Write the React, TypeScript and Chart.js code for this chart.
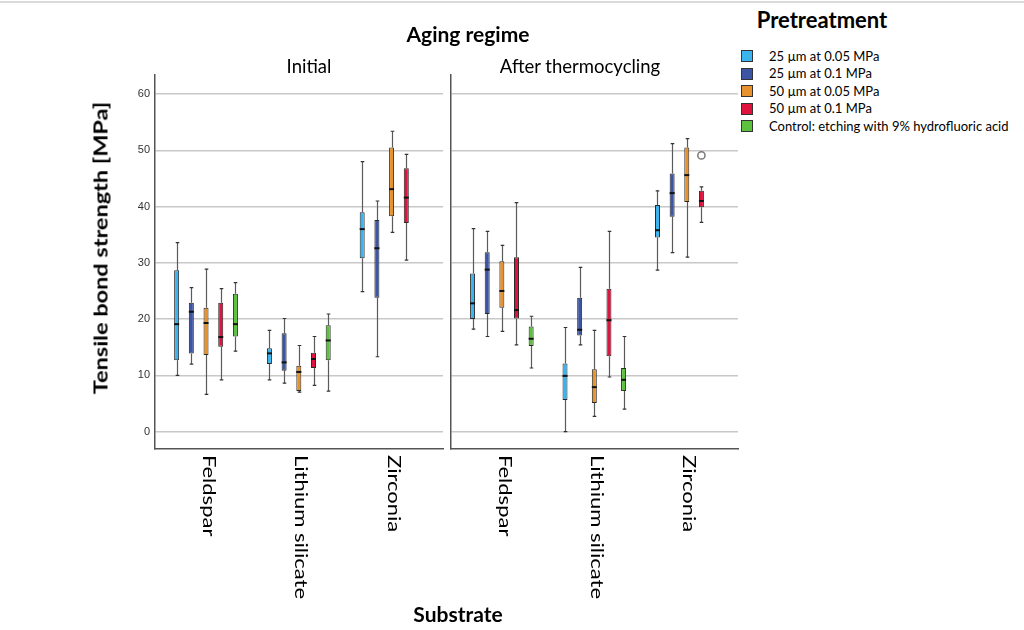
import React, { useEffect, useRef } from "react";
import { Chart, registerables } from "chart.js";
Chart.register(...registerables);

// ---------- data ----------
const substrates = ["Feldspar", "Lithium silicate", "Zirconia"];
const pretreatments = [
  "25 µm at 0.05 MPa",
  "25 µm at 0.1 MPa",
  "50 µm at 0.05 MPa",
  "50 µm at 0.1 MPa",
  "Control: etching with 9% hydrofluoric acid",
];
const seriesColors = ["#3BB3EE", "#3C55A5", "#E8922E", "#E0123E", "#5CC23E"];
const yTicks = [0, 10, 20, 30, 40, 50, 60];
const panelTitles = ["Initial", "After thermocycling"];

// each entry per substrate: [min, Q1, median, Q3, max]; null = not tested
const initial25at005 = [[10.0, 12.7, 19.1, 28.7, 33.6], [9.2, 12.0, 13.9, 14.8, 18.0], [24.9, 30.8, 36.0, 39.0, 48.0]];
const initial25at01 = [[12.0, 13.9, 21.3, 22.9, 25.6], [8.6, 10.8, 12.3, 17.5, 20.1], [13.3, 23.8, 32.6, 37.6, 41.0]];
const initial50at005 = [[6.6, 13.6, 19.3, 22.0, 28.9], [7.0, 7.2, 10.6, 11.7, 15.3], [35.4, 38.3, 43.1, 50.5, 53.4]];
const initial50at01 = [[9.2, 15.1, 16.8, 22.9, 25.4], [8.2, 11.3, 12.9, 14.0, 16.9], [30.5, 37.1, 41.6, 46.8, 49.3]];
const initialControl = [[14.3, 16.9, 19.1, 24.5, 26.5], [7.2, 12.7, 16.2, 18.9, 20.9], null];

const thermo25at005 = [[18.2, 20.0, 22.8, 28.1, 36.1], [0.0, 5.6, 9.9, 12.1, 18.5], [28.7, 34.5, 35.8, 40.3, 42.8]];
const thermo25at01 = [[16.9, 20.9, 28.8, 31.9, 35.6], [15.4, 17.1, 18.1, 23.8, 29.2], [31.8, 38.2, 42.4, 45.9, 51.2]];
const thermo50at005 = [[17.8, 22.0, 25.0, 30.3, 33.1], [2.7, 5.1, 7.9, 11.1, 18.0], [31.0, 40.8, 45.6, 50.5, 52.1]];
const thermo50at01 = [[15.4, 20.1, 21.6, 31.0, 40.7], [9.7, 13.4, 19.8, 25.4, 35.6], [37.2, 39.9, 41.0, 42.8, 43.5]];
const thermoControl = [[11.3, 15.2, 16.5, 18.7, 20.5], [4.0, 7.2, 9.2, 11.3, 16.9], null];

// outliers: [series index, substrate index, value]
const initialOutliers: number[][] = [];
const thermoOutliers = [[3, 2, 49.1]];

const initialSeries = [initial25at005, initial25at01, initial50at005, initial50at01, initialControl];
const thermoSeries = [thermo25at005, thermo25at01, thermo50at005, thermo50at01, thermoControl];

const Y_MIN = -3.1;
const Y_MAX = 63.4;
const X_MIN = 0.45;
const X_MAX = 3.554;

// ---------- plugins ----------
const boxPlugin = {
  id: "boxWhisker",
  beforeDatasetsDraw(chart: any) {
    const ctx = chart.ctx;
    const ys = chart.scales.y;
    ctx.save();
    chart.data.datasets.forEach((ds: any, i: number) => {
      const meta = chart.getDatasetMeta(i);
      meta.data.forEach((el: any, j: number) => {
        const p = ds.data[j];
        const x = Math.round(el.x) + 0.5;
        ctx.strokeStyle = "#5a5a5a";
        ctx.lineWidth = 1.2;
        ctx.beginPath();
        ctx.moveTo(x, ys.getPixelForValue(p.y[1]));
        ctx.lineTo(x, ys.getPixelForValue(p.max));
        ctx.moveTo(x, ys.getPixelForValue(p.y[0]));
        ctx.lineTo(x, ys.getPixelForValue(p.min));
        ctx.stroke();
        ctx.strokeStyle = "#333";
        ctx.lineWidth = 1.2;
        ctx.beginPath();
        [p.max, p.min].forEach((v: number) => {
          const yy = ys.getPixelForValue(v);
          ctx.moveTo(x - 1.8, yy);
          ctx.lineTo(x + 1.8, yy);
        });
        ctx.stroke();
      });
    });
    ctx.restore();
  },
  afterDatasetsDraw(chart: any) {
    const ctx = chart.ctx;
    const ys = chart.scales.y;
    ctx.save();
    chart.data.datasets.forEach((ds: any, i: number) => {
      const meta = chart.getDatasetMeta(i);
      meta.data.forEach((el: any, j: number) => {
        const p = ds.data[j];
        const yy = ys.getPixelForValue(p.med);
        ctx.strokeStyle = "#111";
        ctx.lineWidth = 2;
        ctx.beginPath();
        ctx.moveTo(el.x - el.width / 2, yy);
        ctx.lineTo(el.x + el.width / 2, yy);
        ctx.stroke();
      });
    });
    const outs = chart.options.plugins.boxWhisker?.outliers || [];
    outs.forEach((o: number[]) => {
      const [s, c, v] = o;
      const meta = chart.getDatasetMeta(s);
      const ds = chart.data.datasets[s];
      const j = ds.data.findIndex((d: any) => d.x === c + 1);
      if (j < 0) return;
      const el = meta.data[j];
      ctx.strokeStyle = "#777";
      ctx.lineWidth = 1.5;
      ctx.beginPath();
      ctx.arc(el.x, ys.getPixelForValue(v), 3.6, 0, Math.PI * 2);
      ctx.stroke();
    });
    ctx.restore();
  },
};

const catLabelPlugin = {
  id: "catLabels",
  afterDraw(chart: any) {
    const ctx = chart.ctx;
    const xs = chart.scales.x;
    ctx.save();
    ctx.fillStyle = "#000";
    ctx.font = "22px Lato";
    ctx.textAlign = "left";
    ctx.textBaseline = "middle";
    substrates.forEach((label, c) => {
      const x = xs.getPixelForValue(c + 1) + 2;
      ctx.save();
      ctx.translate(x, chart.chartArea.bottom + 6);
      ctx.rotate(Math.PI / 2);
      ctx.scale(1, 0.75);
      ctx.fillText(label, 0, 0);
      ctx.restore();
    });
    ctx.restore();
  },
};

function buildChart(canvas: HTMLCanvasElement, series: any[], outliers: number[][], showLabels: boolean, yWidth: number) {
  const datasets = series.map((vals: any[], i: number) => ({
    label: pretreatments[i],
    data: vals
      .map((v: number[] | null, c: number) =>
        v ? { x: c + 1, y: [v[1], v[3]], min: v[0], med: v[2], max: v[4] } : null
      )
      .filter(Boolean),
    backgroundColor: seriesColors[i],
    borderColor: "#2a2a2a",
    borderWidth: 1,
    borderSkipped: false,
    categoryPercentage: 0.792,
    barPercentage: 0.34,
  }));
  return new Chart(canvas, {
    type: "bar",
    data: { datasets } as any,
    plugins: [boxPlugin, catLabelPlugin],
    options: {
      responsive: false,
      animation: false,
      layout: { padding: { top: 75, right: 2, left: 0, bottom: 0 } },
      plugins: {
        legend: { display: false },
        tooltip: { enabled: false },
        boxWhisker: { outliers },
      } as any,
      scales: {
        x: {
          type: "linear",
          min: X_MIN,
          max: X_MAX,
          offset: false,
          grid: { display: false, drawTicks: false },
          border: { display: true, color: "#555", width: 1.5 },
          ticks: { display: false },
          afterBuildTicks: (s: any) => {
            s.ticks = substrates.map((_, c) => ({ value: c + 1 }));
          },
          afterFit: (s: any) => {
            s.height = 181;
          },
        },
        y: {
          type: "linear",
          min: Y_MIN,
          max: Y_MAX,
          afterBuildTicks: (s: any) => {
            s.ticks = yTicks.map((v) => ({ value: v }));
          },
          grid: { color: "#C8C8C8", lineWidth: 1.5, drawTicks: false },
          border: { display: true, color: "#555", width: 1.5 },
          ticks: {
            display: showLabels,
            padding: 5,
            color: "#333",
            font: { family: "Liberation Sans", size: 11 },
          },
          afterFit: (s: any) => {
            s.width = yWidth;
          },
        },
      } as any,
    },
  });
}

const Txt = ({ x, y, size, bold, children }: any) => (
  <div
    style={{
      position: "absolute",
      left: x,
      top: y,
      transform: "translate(-50%, -50%)",
      whiteSpace: "nowrap",
      fontFamily: "Lato",
      fontWeight: bold ? 700 : 400,
      fontSize: size,
      lineHeight: 1,
      color: "#000",
    }}
  >
    {children}
  </div>
);

export default function App() {
  const c1 = useRef<HTMLCanvasElement>(null);
  const c2 = useRef<HTMLCanvasElement>(null);
  useEffect(() => {
    const a = buildChart(c1.current!, initialSeries, initialOutliers, true, 155);
    const b = buildChart(c2.current!, thermoSeries, thermoOutliers, false, 6);
    return () => {
      a.destroy();
      b.destroy();
    };
  }, []);
  return (
    <div style={{ position: "absolute", left: 0, top: 0, width: 1024, height: 630, overflow: "hidden", background: "#fff" }}>
      <div style={{ position: "absolute", left: 0, top: 1, width: 1024, height: 2, background: "#DADADA" }} />
      <canvas ref={c1} width={445} height={630} style={{ position: "absolute", left: 0, top: 0 }} />
      <canvas ref={c2} width={295} height={630} style={{ position: "absolute", left: 445, top: 0 }} />

      <Txt x={468} y={33} size={21} bold>Aging regime</Txt>
      <Txt x={309} y={66} size={18.5}>{panelTitles[0]}</Txt>
      <Txt x={580} y={66} size={18.5}>{panelTitles[1]}</Txt>
      <Txt x={458} y={613} size={21} bold>Substrate</Txt>

      <div
        style={{
          position: "absolute",
          left: 101,
          top: 247.5,
          transform: "translate(-50%, -50%) rotate(-90deg) scaleY(0.78)",
          whiteSpace: "nowrap",
          fontFamily: "Lato",
          fontWeight: 700,
          fontSize: 23.5,
          lineHeight: 1,
        }}
      >
        Tensile bond strength [MPa]
      </div>

      <Txt x={822} y={20} size={22} bold>Pretreatment</Txt>
      {pretreatments.map((p, i) => (
        <div key={p} style={{ position: "absolute", left: 741, top: 50 + i * 17.5, height: 12, display: "flex", alignItems: "center" }}>
          <div style={{ width: 10, height: 10, background: seriesColors[i], border: "1px solid #333" }} />
          <div style={{ marginLeft: 16, fontFamily: "Lato", fontSize: 13, whiteSpace: "nowrap", lineHeight: 1, color: "#000" }}>{p}</div>
        </div>
      ))}
    </div>
  );
}
